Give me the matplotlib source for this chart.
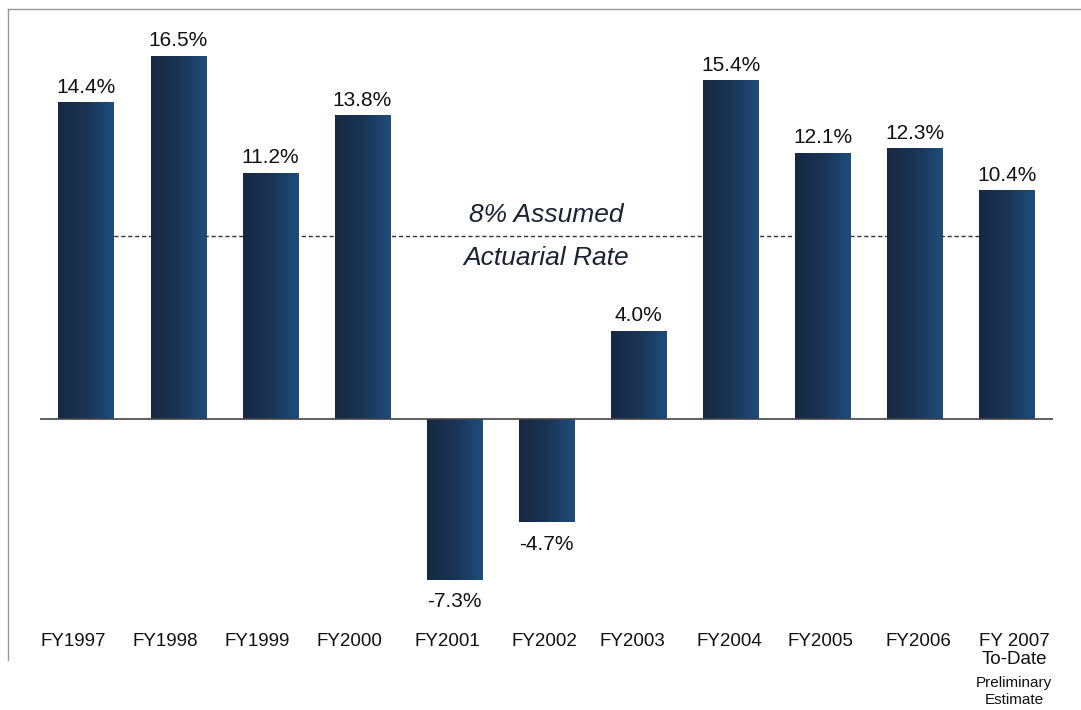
import matplotlib
matplotlib.use("Agg")
import matplotlib.pyplot as plt
import numpy as np
from matplotlib.lines import Line2D
from matplotlib.colors import LinearSegmentedColormap

categories = ["FY1997", "FY1998", "FY1999", "FY2000", "FY2001", "FY2002",
              "FY2003", "FY2004", "FY2005", "FY2006", "FY 2007\nTo-Date"]
returns = [14.4, 16.5, 11.2, 13.8, -7.3, -4.7, 4.0, 15.4, 12.1, 12.3, 10.4]
value_labels = ["14.4%", "16.5%", "11.2%", "13.8%", "-7.3%", "-4.7%", "4.0%",
                "15.4%", "12.1%", "12.3%", "10.4%"]
# horizontal nudge of each category label relative to its bar (in bar-slot units)
label_nudge = [-0.14, -0.14, -0.14, -0.14, -0.08, -0.02, -0.07, -0.01, -0.02, 0.04, 0.08]
assumed_rate_line = 8.3
assumed_label = "8% Assumed"
assumed_label2 = "Actuarial Rate"
note = "Preliminary\nEstimate"

plt.rcParams['font.family'] = ['Liberation Sans', 'DejaVu Sans']

W, H = 1081, 710
fig = plt.figure(figsize=(W / 100, H / 100), dpi=100)

ax_left, ax_right = 40, 1053
ax_top, ax_bot = 30, 600
zero_y = 419
ppu = 22.0
ax = fig.add_axes([ax_left / W, 1 - ax_bot / H, (ax_right - ax_left) / W, (ax_bot - ax_top) / H])
ylim = (-(ax_bot - zero_y) / ppu, (zero_y - ax_top) / ppu)
ax.axis('off')

x = np.arange(len(categories))
bars = ax.bar(x, returns, width=0.6, color='#1d3d62', zorder=3)

cmap = LinearSegmentedColormap.from_list('navy', ['#172843', '#1a3454', '#1e4c7c'])
grad = np.linspace(0, 1, 64).reshape(1, -1)
for b in bars:
    x0, y0 = b.get_x(), b.get_y()
    w, h = b.get_width(), b.get_height()
    im = ax.imshow(grad, cmap=cmap, aspect='auto', extent=[x0, x0 + w, y0, y0 + h],
                   zorder=3.5, interpolation='bilinear')
    im.set_clip_path(b)
ax.set_xlim(-0.5, len(categories) - 0.5)
ax.set_ylim(*ylim)

ax.axhline(0, color='#444444', lw=1.2, zorder=4)
ax.plot([x[0], x[-1]], [assumed_rate_line, assumed_rate_line], color='#333333',
        lw=1.0, ls=(0, (3, 2)), zorder=2)
ax.text(5.0, assumed_rate_line + 0.42, assumed_label, ha='center', va='bottom',
        fontsize=19, style='italic', color='#1a2233', zorder=5)
ax.text(5.0, assumed_rate_line - 0.42, assumed_label2, ha='center', va='top',
        fontsize=19, style='italic', color='#1a2233', zorder=5)

for xi, v, lab in zip(x, returns, value_labels):
    if v >= 0:
        ax.annotate(lab, (xi, v), xytext=(0, 4), textcoords='offset points',
                    ha='center', va='bottom', fontsize=15, color='#111111')
    else:
        ax.annotate(lab, (xi, v), xytext=(0, -9), textcoords='offset points',
                    ha='center', va='top', fontsize=15, color='#111111')

trans = ax.get_xaxis_transform()
lab_y = 1 - (633 - ax_top) / (ax_bot - ax_top)
for xi, c, dn in zip(x, categories, label_nudge):
    ax.text(xi + dn, lab_y, c, transform=trans, ha='center', va='top', fontsize=13.5,
            color='#111111', linespacing=1.05, clip_on=False)
note_y = 1 - (676 - ax_top) / (ax_bot - ax_top)
ax.text(x[-1] + label_nudge[-1], note_y, note, transform=trans, ha='center', va='top',
        fontsize=11, color='#111111', linespacing=1.3, clip_on=False)

fig.add_artist(Line2D([8 / W, 1.0], [1 - 8.5 / H, 1 - 8.5 / H], color='#999999', lw=1.0))
fig.add_artist(Line2D([8 / W, 8 / W], [1 - 8.5 / H, 1 - 660 / H], color='#999999', lw=1.0))

fig.savefig('out.png', dpi=100)
